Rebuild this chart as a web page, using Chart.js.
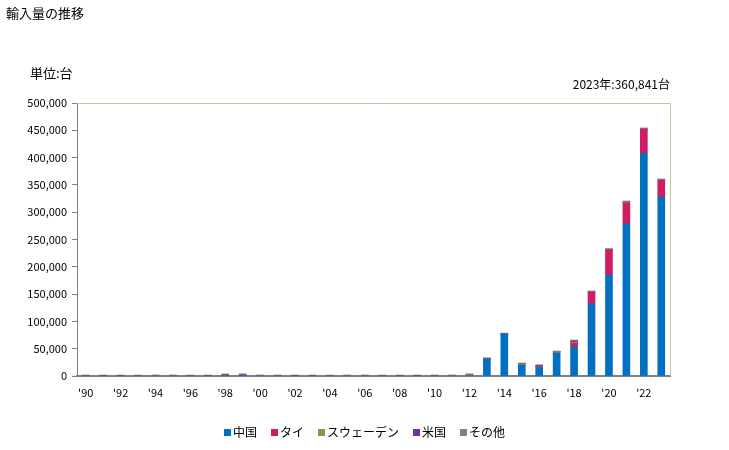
<!DOCTYPE html>
<html>
<head>
<meta charset="utf-8">
<script src="https://cdn.jsdelivr.net/npm/chart.js@4"></script>
<style>
  body { margin: 0; background: #fff; font-family: "Noto Sans CJK JP", sans-serif; }
  #wrap { position: relative; width: 729px; height: 450px; }
  .txt { position: absolute; font-size: 13px; color: #000; white-space: nowrap; }
  #legend { position: absolute; top: 423px; left: 0; width: 729px; text-align: center; font-size: 12px; }
  #legend span { margin: 0 7px; }
  #legend i { display: inline-block; width: 7px; height: 7px; margin-right: 2px; vertical-align: 1px; }
</style>
</head>
<body>
<div id="wrap">
  <canvas id="importChart" width="729" height="450"></canvas>
  <div class="txt" style="left:6px; top:3px;">輸入量の推移</div>
  <div class="txt" style="left:30px; top:63px;">単位:台</div>
  <div class="txt" style="right:59px; top:75px; font-size:12px;">2023年:360,841台</div>
  <div id="legend"></div>
</div>
<script>
// 年 (1990〜2023)
const years = ['1990','1991','1992','1993','1994','1995','1996','1997','1998','1999',
               '2000','2001','2002','2003','2004','2005','2006','2007','2008','2009',
               '2010','2011','2012','2013','2014','2015','2016','2017','2018','2019',
               '2020','2021','2022','2023'];

// 国別の輸入量 (台)
const china  = [0,0,0,0,0,0,0,0,0,0, 0,0,0,0,0,0,0,0,0,0, 0,0,0,30500,77000,20000,15500,42000,53000,132400, 185000,279000,408000,327800];
const thai   = [0,0,0,0,0,0,0,0,0,0, 0,0,0,0,0,0,0,0,0,0, 0,0,0,0,0,0,1500,0,7000,21500, 46000,38000,44000,31000];
const sweden = [0,0,0,0,0,0,0,0,0,0, 0,0,0,0,0,0,0,0,0,0, 0,0,2000,0,0,2500,1000,2500,2000,0, 0,2000,500,500];
const usa    = [0,0,0,0,0,0,0,0,2000,2200, 0,0,0,0,0,0,0,0,0,0, 0,0,0,1000,0,0,1500,0,2000,0, 0,0,0,0];
const others = [1900,1900,1900,1900,1900,1900,1900,1900,1800,1800, 1900,1900,1900,1900,1900,1900,1900,1900,1900,1900, 1900,1900,2000,2000,1500,1300,1000,1300,2000,1800, 2500,1500,1800,1541];

// y軸の目盛
const yMax = 500000;
const yStep = 50000;

const series = [
  { label: '中国', data: china, color: '#0070c0' },
  { label: 'タイ', data: thai, color: '#d01c64' },
  { label: 'スウェーデン', data: sweden, color: '#7f9a48' },
  { label: '米国', data: usa, color: '#7030a0' },
  { label: 'その他', data: others, color: '#808080' }
];

// 凡例
document.getElementById('legend').innerHTML = series.map(s =>
  `<span><i style="background:${s.color}"></i>${s.label}</span>`).join('');

// 上と右の枠線
const frameLines = {
  id: 'frameLines',
  afterDraw(chart) {
    const { ctx, chartArea: a } = chart;
    ctx.save();
    ctx.strokeStyle = '#c8bf9c';
    ctx.lineWidth = 1;
    ctx.beginPath();
    ctx.moveTo(a.left, a.top + 0.5);
    ctx.lineTo(a.right + 0.5, a.top + 0.5);
    ctx.lineTo(a.right + 0.5, a.bottom);
    ctx.stroke();
    ctx.restore();
  }
};

const fontFamily = '"Noto Sans CJK JP", sans-serif';

new Chart(document.getElementById('importChart'), {
  type: 'bar',
  data: {
    labels: years,
    datasets: series.map(s => ({
      label: s.label,
      data: s.data,
      backgroundColor: s.color,
      barThickness: 7
    }))
  },
  options: {
    responsive: false,
    animation: false,
    layout: { padding: { top: 103, right: 59, bottom: 50, left: 0 } },
    plugins: {
      legend: { display: false },
      tooltip: { enabled: false }
    },
    scales: {
      x: {
        stacked: true,
        afterFit: (scale) => { scale.height = 24; },
        grid: { display: false },
        border: { color: '#808080', width: 2 },
        ticks: {
          autoSkip: false,
          maxRotation: 0,
          color: '#000',
          padding: 2,
          font: { family: fontFamily, size: 11 },
          callback: function(value, index) {
            const y = years[index];
            return (parseInt(y) % 2 === 0) ? "'" + y.slice(2) : '';
          }
        }
      },
      y: {
        stacked: true,
        min: 0,
        max: yMax,
        afterFit: (scale) => { scale.width = 77; },
        grid: { drawOnChartArea: false, drawTicks: true, tickLength: 5, color: '#808080' },
        border: { color: '#808080', width: 1 },
        ticks: {
          stepSize: yStep,
          padding: 5,
          color: '#000',
          font: { family: fontFamily, size: 11 },
          callback: (v) => v.toString().replace(/\B(?=(\d{3})+(?!\d))/g, ',')
        }
      }
    }
  },
  plugins: [frameLines]
});
</script>
</body>
</html>
